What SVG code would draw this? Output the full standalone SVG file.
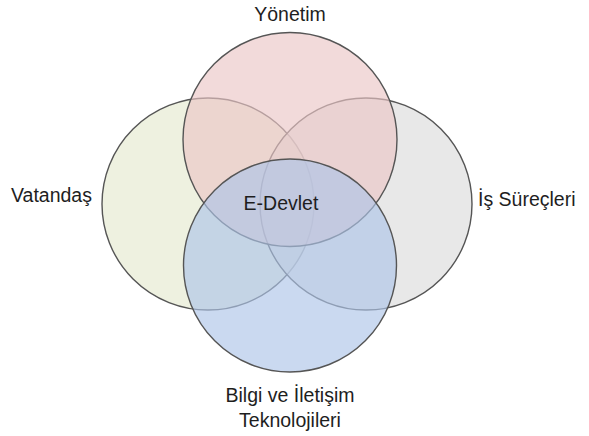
<svg xmlns="http://www.w3.org/2000/svg" width="589" height="436" viewBox="0 0 589 436">
  <style>
    .set { stroke: #555555; stroke-width: 1.4; fill-opacity: 0.65; }
    .label { font-family: "Liberation Sans", Arial, sans-serif; font-size: 19.5px; fill: #1e1e1e; }
  </style>
  <rect width="589" height="436" fill="#ffffff"/>
  <g id="vatandas">
    <circle class="set" cx="208" cy="204" r="106" fill="#e5eacf"/>
  </g>
  <g id="is-surecleri">
    <circle class="set" cx="366" cy="204" r="106" fill="#dbdbdb"/>
  </g>
  <g id="yonetim">
    <circle class="set" cx="290" cy="139.5" r="107" fill="#ebc6c6"/>
  </g>
  <g id="bilgi-iletisim">
    <circle class="set" cx="290" cy="265.5" r="106.5" fill="#adc5e8"/>
  </g>
  <g id="labels">
    <text class="label" x="290" y="21" text-anchor="middle">Yönetim</text>
    <text class="label" x="11" y="202">Vatandaş</text>
    <text class="label" x="478" y="206">İş Süreçleri</text>
    <text class="label" x="281" y="210" text-anchor="middle">E-Devlet</text>
    <text class="label" x="290" y="402" text-anchor="middle">Bilgi ve İletişim</text>
    <text class="label" x="290" y="427" text-anchor="middle">Teknolojileri</text>
  </g>
</svg>
